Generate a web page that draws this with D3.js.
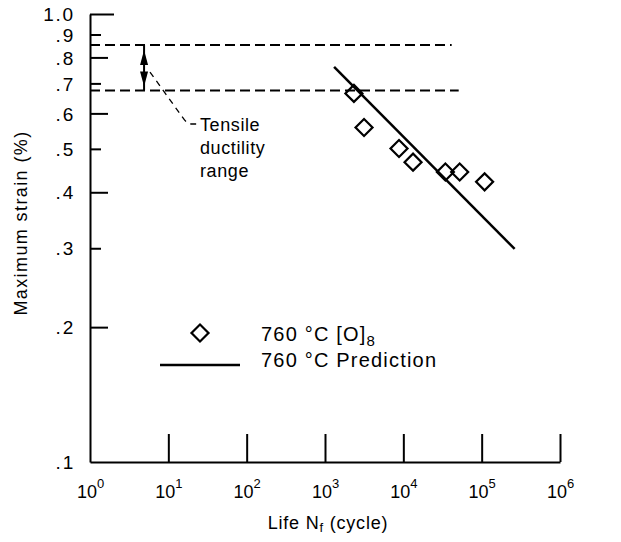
<!DOCTYPE html>
<html><head><meta charset="utf-8">
<script src="https://cdn.jsdelivr.net/npm/d3@7/dist/d3.min.js"></script>
<style>
body{margin:0;background:#fff;}
text{font-family:"Liberation Sans",Arial,Helvetica,sans-serif;fill:#000;}
</style></head>
<body><svg id="chart" width="621" height="542"></svg>
<script>
// ---- data ----
const lifeCycles = [2340, 3150, 8810, 13300, 34400, 52400, 109000];
const maxStrain  = [0.665, 0.558, 0.501, 0.467, 0.444, 0.444, 0.422];
const predLife   = [1306, 263700];
const predStrain = [0.762, 0.299];
const ductilityStrain = [0.853, 0.675];
const ductilityEndLife = [41400, 50900];
const xTicks = [1, 10, 100, 1000, 10000, 100000, 1000000];
const xTickExp = ["0", "1", "2", "3", "4", "5", "6"];
const yTicks = [1.0, 0.9, 0.8, 0.7, 0.6, 0.5, 0.4, 0.3, 0.2, 0.1];
const yTickLabels = ["1.0", ".9", ".8", ".7", ".6", ".5", ".4", ".3", ".2", ".1"];
const legendLabels = ["760 °C [O]", "760 °C Prediction"];

const svg = d3.select("#chart");
const x = d3.scaleLog().domain([1, 1e6]).range([90, 560]);
const y = d3.scaleLog().domain([0.1, 1.0]).range([462, 14]);

// Y axis
const yAxis = d3.axisLeft(y).tickValues(yTicks)
  .tickFormat((d, i) => yTickLabels[i]).tickSizeInner(-15).tickSizeOuter(0).tickPadding(15);
const gy = svg.append("g").attr("transform", "translate(90,0)").call(yAxis);
gy.select(".domain").attr("stroke-width", 2);
gy.selectAll(".tick line").attr("stroke-width", 2)
  .attr("x2", d => {
    if (d === 1.0) return 24;
    if (d === 0.1) return 0;
    const t = Math.round(d * 10);
    return t % 2 === 0 ? 18 : 11;
  });
gy.selectAll(".tick text").style("font-size", "19px").style("letter-spacing", "1.8px")
  .attr("fill", "#000").attr("dy", "0.35em");

// X axis
const xAxis = d3.axisBottom(x).tickValues(xTicks).tickFormat("")
  .tickSizeInner(-28).tickSizeOuter(0);
const gx = svg.append("g").attr("transform", "translate(0,462)").call(xAxis);
gx.select(".domain").attr("stroke-width", 2);
gx.selectAll(".tick line").attr("stroke-width", 2).attr("y2", d => d === 1 ? 0 : -28);
gx.selectAll(".tick").each(function(d, i) {
  const t = d3.select(this).append("text").attr("y", 36).attr("x", 0)
    .attr("text-anchor", "middle").style("font-size", "18px").attr("fill", "#000");
  t.append("tspan").text("10");
  t.append("tspan").attr("dy", -10).style("font-size", "13px").text(xTickExp[i]);
});

// axis titles
svg.append("text").attr("transform", "translate(27,223) rotate(-90)")
  .attr("text-anchor", "middle").style("font-size", "18px").style("letter-spacing", "1.4px")
  .text("Maximum strain (%)");
const xt = svg.append("text").attr("x", 328).attr("y", 529).attr("text-anchor", "middle")
  .style("font-size", "18px").style("letter-spacing", "0.8px");
xt.append("tspan").text("Life N");
xt.append("tspan").attr("dy", 3).style("font-size", "13px").text("f");
xt.append("tspan").attr("dy", -3).text(" (cycle)");

// tensile ductility dashed lines
ductilityStrain.forEach((s, i) => {
  svg.append("line").attr("x1", x(1)).attr("x2", x(ductilityEndLife[i]))
    .attr("y1", y(s)).attr("y2", y(s))
    .attr("stroke", "#000").attr("stroke-width", 2).attr("stroke-dasharray", "10,5");
});

// double arrow
const ax = x(4.9);
const yTop = y(ductilityStrain[0]), yBot = y(ductilityStrain[1]);
svg.append("line").attr("x1", ax).attr("x2", ax).attr("y1", yTop).attr("y2", yBot)
  .attr("stroke", "#000").attr("stroke-width", 2);
svg.append("path").attr("d", `M${ax},${yTop+5} L${ax-4},${yTop+20} L${ax+4},${yTop+20} Z`).attr("fill", "#000");
svg.append("path").attr("d", `M${ax},${yBot-4} L${ax-4},${yBot-19} L${ax+4},${yBot-19} Z`).attr("fill", "#000");

// leader line
const lx1 = x(5.83), ly1 = y(0.742), lx2 = x(15.4), ly2 = y(0.586);
svg.append("path")
  .attr("d", `M${lx1},${ly1} L${lx2},${ly2} Q${lx2+4},${ly2+6} ${lx2+8},${ly2+6} L${lx2+16},${ly2+6}`)
  .attr("fill", "none").attr("stroke", "#000").attr("stroke-width", 1.3).attr("stroke-dasharray", "6,5");
["Tensile", "ductility", "range"].forEach((t, i) => {
  svg.append("text").attr("x", 200).attr("y", 131 + i * 23)
    .style("font-size", "18px").style("letter-spacing", "0.6px").text(t);
});

// prediction line
const predData = predLife.map((n, i) => [n, predStrain[i]]);
svg.append("path").datum(predData)
  .attr("d", d3.line().x(d => x(d[0])).y(d => y(d[1])))
  .attr("fill", "none").attr("stroke", "#000").attr("stroke-width", 2.5);

// data diamonds
const sym = d3.symbol().type(d3.symbolSquare).size(145);
svg.selectAll(".pt").data(lifeCycles.map((n, i) => [n, maxStrain[i]])).join("path")
  .attr("class", "pt").attr("d", sym)
  .attr("transform", d => `translate(${x(d[0])},${y(d[1])}) rotate(45)`)
  .attr("fill", "none").attr("stroke", "#000").attr("stroke-width", 2.2);

// legend
svg.append("path").attr("d", sym).attr("transform", "translate(200,333) rotate(45)")
  .attr("fill", "none").attr("stroke", "#000").attr("stroke-width", 2.2);
svg.append("line").attr("x1", 160).attr("x2", 240).attr("y1", 365).attr("y2", 365)
  .attr("stroke", "#000").attr("stroke-width", 2.5);
const l1 = svg.append("text").attr("x", 261).attr("y", 341)
  .style("font-size", "20px").style("letter-spacing", "1.2px");
l1.append("tspan").text(legendLabels[0]);
l1.append("tspan").attr("dy", 5).style("font-size", "15px").text("8");
svg.append("text").attr("x", 261).attr("y", 367)
  .style("font-size", "20px").style("letter-spacing", "1.2px").text(legendLabels[1]);
</script></body></html>
